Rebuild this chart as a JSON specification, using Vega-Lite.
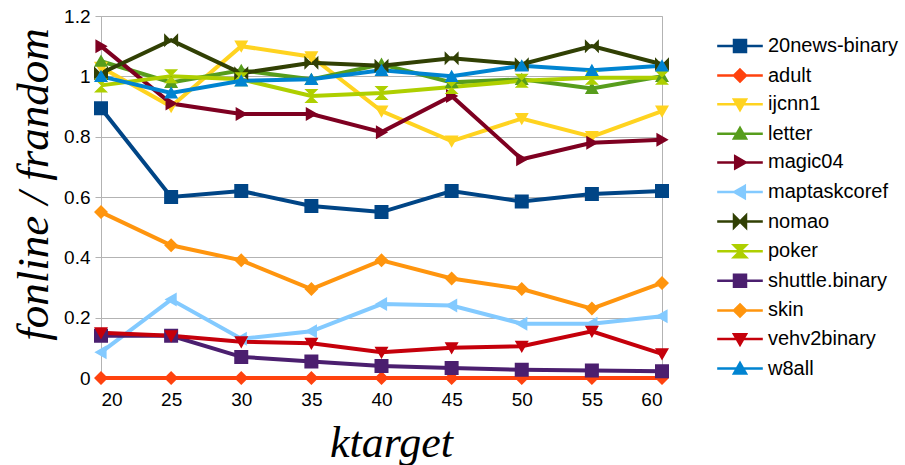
{
  "$schema": "https://vega.github.io/schema/vega-lite/v6.json",
  "width": 561,
  "height": 362,
  "autosize": {"type": "none"},
  "padding": {"left": 101, "top": 16, "right": 243, "bottom": 87},
  "background": "white",
  "config": {
    "view": {"stroke": "#b3b3b3", "strokeWidth": 1},
    "font": "Liberation Sans"
  },
  "data": {"values": [
    {"k":20,"series":"20news-binary","value":0.894},{"k":25,"series":"20news-binary","value":0.60},{"k":30,"series":"20news-binary","value":0.62},{"k":35,"series":"20news-binary","value":0.57},{"k":40,"series":"20news-binary","value":0.55},{"k":45,"series":"20news-binary","value":0.62},{"k":50,"series":"20news-binary","value":0.585},{"k":55,"series":"20news-binary","value":0.61},{"k":60,"series":"20news-binary","value":0.62},
    {"k":20,"series":"adult","value":0},{"k":25,"series":"adult","value":0},{"k":30,"series":"adult","value":0},{"k":35,"series":"adult","value":0},{"k":40,"series":"adult","value":0},{"k":45,"series":"adult","value":0},{"k":50,"series":"adult","value":0},{"k":55,"series":"adult","value":0},{"k":60,"series":"adult","value":0},
    {"k":20,"series":"ijcnn1","value":1.03},{"k":25,"series":"ijcnn1","value":0.90},{"k":30,"series":"ijcnn1","value":1.10},{"k":35,"series":"ijcnn1","value":1.065},{"k":40,"series":"ijcnn1","value":0.885},{"k":45,"series":"ijcnn1","value":0.785},{"k":50,"series":"ijcnn1","value":0.86},{"k":55,"series":"ijcnn1","value":0.80},{"k":60,"series":"ijcnn1","value":0.885},
    {"k":20,"series":"letter","value":1.05},{"k":25,"series":"letter","value":0.98},{"k":30,"series":"letter","value":1.02},{"k":35,"series":"letter","value":0.99},{"k":40,"series":"letter","value":1.04},{"k":45,"series":"letter","value":0.98},{"k":50,"series":"letter","value":0.99},{"k":55,"series":"letter","value":0.96},{"k":60,"series":"letter","value":1.0},
    {"k":20,"series":"magic04","value":1.10},{"k":25,"series":"magic04","value":0.91},{"k":30,"series":"magic04","value":0.875},{"k":35,"series":"magic04","value":0.875},{"k":40,"series":"magic04","value":0.815},{"k":45,"series":"magic04","value":0.935},{"k":50,"series":"magic04","value":0.725},{"k":55,"series":"magic04","value":0.78},{"k":60,"series":"magic04","value":0.79},
    {"k":20,"series":"maptaskcoref","value":0.085},{"k":25,"series":"maptaskcoref","value":0.26},{"k":30,"series":"maptaskcoref","value":0.13},{"k":35,"series":"maptaskcoref","value":0.155},{"k":40,"series":"maptaskcoref","value":0.245},{"k":45,"series":"maptaskcoref","value":0.24},{"k":50,"series":"maptaskcoref","value":0.18},{"k":55,"series":"maptaskcoref","value":0.18},{"k":60,"series":"maptaskcoref","value":0.205},
    {"k":20,"series":"nomao","value":1.01},{"k":25,"series":"nomao","value":1.12},{"k":30,"series":"nomao","value":1.01},{"k":35,"series":"nomao","value":1.045},{"k":40,"series":"nomao","value":1.035},{"k":45,"series":"nomao","value":1.06},{"k":50,"series":"nomao","value":1.04},{"k":55,"series":"nomao","value":1.10},{"k":60,"series":"nomao","value":1.04},
    {"k":20,"series":"poker","value":0.97},{"k":25,"series":"poker","value":1.00},{"k":30,"series":"poker","value":0.99},{"k":35,"series":"poker","value":0.935},{"k":40,"series":"poker","value":0.945},{"k":45,"series":"poker","value":0.965},{"k":50,"series":"poker","value":0.985},{"k":55,"series":"poker","value":0.995},{"k":60,"series":"poker","value":0.995},
    {"k":20,"series":"shuttle.binary","value":0.14},{"k":25,"series":"shuttle.binary","value":0.14},{"k":30,"series":"shuttle.binary","value":0.07},{"k":35,"series":"shuttle.binary","value":0.055},{"k":40,"series":"shuttle.binary","value":0.04},{"k":45,"series":"shuttle.binary","value":0.033},{"k":50,"series":"shuttle.binary","value":0.027},{"k":55,"series":"shuttle.binary","value":0.025},{"k":60,"series":"shuttle.binary","value":0.022},
    {"k":20,"series":"skin","value":0.55},{"k":25,"series":"skin","value":0.44},{"k":30,"series":"skin","value":0.39},{"k":35,"series":"skin","value":0.295},{"k":40,"series":"skin","value":0.39},{"k":45,"series":"skin","value":0.33},{"k":50,"series":"skin","value":0.295},{"k":55,"series":"skin","value":0.23},{"k":60,"series":"skin","value":0.315},
    {"k":20,"series":"vehv2binary","value":0.15},{"k":25,"series":"vehv2binary","value":0.14},{"k":30,"series":"vehv2binary","value":0.12},{"k":35,"series":"vehv2binary","value":0.115},{"k":40,"series":"vehv2binary","value":0.085},{"k":45,"series":"vehv2binary","value":0.10},{"k":50,"series":"vehv2binary","value":0.105},{"k":55,"series":"vehv2binary","value":0.155},{"k":60,"series":"vehv2binary","value":0.08},
    {"k":20,"series":"w8all","value":1.00},{"k":25,"series":"w8all","value":0.945},{"k":30,"series":"w8all","value":0.985},{"k":35,"series":"w8all","value":0.99},{"k":40,"series":"w8all","value":1.02},{"k":45,"series":"w8all","value":1.00},{"k":50,"series":"w8all","value":1.035},{"k":55,"series":"w8all","value":1.02},{"k":60,"series":"w8all","value":1.035}
  ]},
  "encoding": {
    "x": {
      "field": "k", "type": "quantitative",
      "scale": {"domain": [20, 60], "nice": false, "zero": false},
      "axis": {
        "values": [20,25,30,35,40,45,50,55,60],
        "grid": false, "ticks": false, "domain": false,
        "labelFontSize": 19, "labelColor": "#000", "labelPadding": 12, "labelFont": "Liberation Sans",
        "title": "ktarget", "titleFont": "Liberation Serif", "titleFontStyle": "italic", "titleFontWeight": "normal",
        "titleFontSize": 44, "titleColor": "#000", "titleX": 290, "titleY": 78, "titleBaseline": "alphabetic"
      }
    },
    "y": {
      "field": "value", "type": "quantitative",
      "scale": {"domain": [0, 1.2], "nice": false},
      "axis": {
        "values": [0,0.2,0.4,0.6,0.8,1,1.2], "format": "~g",
        "grid": true, "gridColor": "#b3b3b3", "gridWidth": 1,
        "domain": true, "domainColor": "#b3b3b3",
        "ticks": true, "tickColor": "#b3b3b3", "tickSize": 6,
        "labelFontSize": 19, "labelColor": "#000", "labelPadding": 5, "labelFont": "Liberation Sans",
        "title": "fonline / frandom", "titleFont": "Liberation Serif", "titleFontStyle": "italic", "titleFontWeight": "normal",
        "titleFontSize": 45, "titleColor": "#000", "titleAngle": -90, "titleX": -54, "titleY": 168, "titleAlign": "center", "titleBaseline": "alphabetic"
      }
    },
    "color": {
      "field": "series", "type": "nominal",
      "scale": {
        "domain": ["20news-binary","adult","ijcnn1","letter","magic04","maptaskcoref","nomao","poker","shuttle.binary","skin","vehv2binary","w8all"],
        "range": ["#004586","#ff420e","#ffd320","#579d1c","#7e0021","#83caff","#314004","#aecf00","#4b1f6f","#ff950e","#c5000b","#0084d1"]
      },
      "legend": {
        "orient": "none", "legendX": 613, "legendY": 20, "title": null,
        "labelFontSize": 20, "labelColor": "#000", "labelFont": "Liberation Sans",
        "symbolSize": 144, "symbolOffset": 16, "labelOffset": 18, "rowPadding": 7.6,
        "symbolStrokeWidth": 2.5,
        "encode": {"symbols": {"update": {"stroke": {"scale": "color", "field": "value"}, "strokeWidth": {"value": 2.5}}}}
      }
    }
  },
  "layer": [
    {"mark": {"type": "line", "strokeWidth": 4}, "encoding": {"detail": {"field": "series"}}},
    {
      "mark": {"type": "point", "filled": true, "size": 196, "opacity": 1},
      "encoding": {
        "shape": {
          "field": "series", "type": "nominal",
          "scale": {
            "domain": ["20news-binary","adult","ijcnn1","letter","magic04","maptaskcoref","nomao","poker","shuttle.binary","skin","vehv2binary","w8all"],
            "range": [
              "M-3.8,0H3.8M-1,-1H1V1H-1Z",
              "M-3.8,0H3.8M0,-1L1,0L0,1L-1,0Z",
              "M-3.8,0H3.8M-1,-0.8L1,-0.8L0,0.95Z",
              "M-3.8,0H3.8M-1,0.8L1,0.8L0,-0.95Z",
              "M-3.8,0H3.8M-0.8,-1L0.95,0L-0.8,1Z",
              "M-3.8,0H3.8M0.8,-1L-0.95,0L0.8,1Z",
              "M-3.8,0H3.8M-1,-1L1,1L1,-1L-1,1Z",
              "M-3.8,0H3.8M-1,-1L1,-1L-1,1L1,1Z",
              "M-3.8,0H3.8M-1,-1H1V1H-1Z",
              "M-3.8,0H3.8M0,-1L1,0L0,1L-1,0Z",
              "M-3.8,0H3.8M-1,-0.8L1,-0.8L0,0.95Z",
              "M-3.8,0H3.8M-1,0.8L1,0.8L0,-0.95Z"
            ]
          }
        }
      }
    }
  ]
}
